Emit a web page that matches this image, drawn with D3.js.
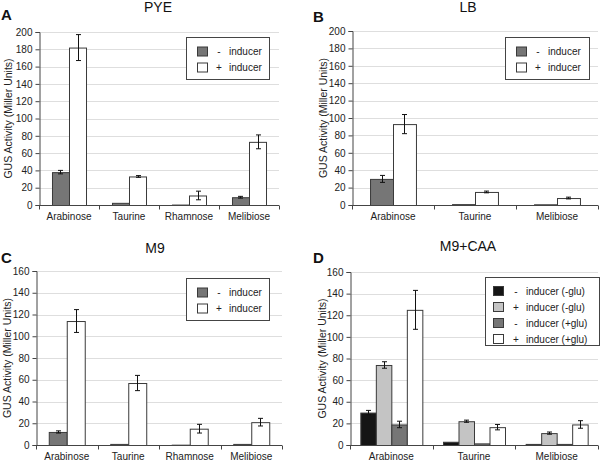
<!DOCTYPE html>
<html><head><meta charset="utf-8">
<script src="https://cdn.jsdelivr.net/npm/d3@7"></script>
<style>body{margin:0;background:#fff}svg{display:block;font-family:"Liberation Sans",Arial,sans-serif}</style>
</head><body>
<svg id="c" width="600" height="460"></svg>
<script>
// ---- Data ----
const catsA = ["Arabinose","Taurine","Rhamnose","Melibiose"];
const pyeMinus = [38, 2.5, 0.5, 9];
const pyeMinusErr = [2, 0.5, 0.2, 1];
const pyePlus = [182, 33, 11, 73];
const pyePlusErr = [15, 1, 5, 8];

const catsB = ["Arabinose","Taurine","Melibiose"];
const lbMinus = [30, 1, 0.8];
const lbMinusErr = [4, 0.2, 0.2];
const lbPlus = [93, 15, 8];
const lbPlusErr = [11, 1, 1];

const catsC = ["Arabinose","Taurine","Rhamnose","Melibiose"];
const m9Minus = [12, 1, 0.3, 1];
const m9MinusErr = [1, 0.3, 0.1, 0.3];
const m9Plus = [114, 57, 15, 21];
const m9PlusErr = [10.5, 7, 4, 3.5];

const catsD = ["Arabinose","Taurine","Melibiose"];
const caaMinusNoGlu = [30, 3, 1];
const caaMinusNoGluErr = [2, 0.3, 0.2];
const caaPlusNoGlu = [74, 22, 11];
const caaPlusNoGluErr = [3, 1, 1];
const caaMinusGlu = [19, 1.5, 1];
const caaMinusGluErr = [3, 0.3, 0.2];
const caaPlusGlu = [125, 16.5, 19];
const caaPlusGluErr = [18, 2.5, 3.5];

const ticksAB = [0,20,40,60,80,100,120,140,160,180,200];
const ticksCD = [0,20,40,60,80,100,120,140,160];

const legend2 = [["-","inducer"],["+","inducer"]];
const legend4 = [["-","inducer (-glu)"],["+","inducer (-glu)"],["-","inducer (+glu)"],["+","inducer (+glu)"]];
const col2 = ["#767676","#ffffff"];
const col4 = ["#151515","#c4c4c4","#767676","#ffffff"];

const svg = d3.select("#c");

function panel(o){
  const g = svg.append("g");
  const x = d3.scaleBand().domain(o.cats).range([o.x0,o.x1]).paddingInner(o.pad).paddingOuter(o.pad/2);
  const y = d3.scaleLinear().domain([0,o.ymax]).range([o.y0,o.y1]);
  const keys = o.series.map((s,i)=>i);
  const xs = d3.scaleBand().domain(keys).range([0,x.bandwidth()]);
  // grid
  g.append("g").selectAll("line").data(o.ticks.slice(1)).join("line")
    .attr("x1",o.x0).attr("x2",o.x1).attr("y1",d=>Math.round(y(d))+0.5).attr("y2",d=>Math.round(y(d))+0.5)
    .attr("stroke","#dedede").attr("stroke-width",1);
  // y axis
  const ya = g.append("g").attr("transform",`translate(${o.x0+0.5},0)`)
    .call(d3.axisLeft(y).tickValues(o.ticks).tickSize(4).tickPadding(3));
  ya.select(".domain").attr("stroke","#444");
  ya.selectAll(".tick line").attr("stroke","#444");
  ya.selectAll("text").attr("font-size","10px").attr("fill","#222").attr("font-family","Liberation Sans, Arial, sans-serif");
  // bars
  o.series.forEach((s,si)=>{
    g.append("g").selectAll("rect").data(s.v).join("rect")
      .attr("x",(d,i)=>x(o.cats[i])+xs(si)+0.5)
      .attr("width",xs.bandwidth())
      .attr("y",d=>y(d)+0.5)
      .attr("height",d=>Math.max(0,y(0)-y(d)))
      .attr("fill",o.colors[si]).attr("stroke","#3a3a3a").attr("stroke-width",1);
    const eg = g.append("g").attr("stroke","#111").attr("stroke-width",1);
    s.v.forEach((d,i)=>{
      const e = s.e[i]; if(e<0.6) return;
      const cx = Math.round(x(o.cats[i])+xs(si)+xs.bandwidth()/2)+0.5;
      eg.append("line").attr("x1",cx).attr("x2",cx).attr("y1",y(d+e)).attr("y2",y(d-e));
      eg.append("line").attr("x1",cx-2.5).attr("x2",cx+2.5).attr("y1",y(d+e)).attr("y2",y(d+e));
      eg.append("line").attr("x1",cx-2.5).attr("x2",cx+2.5).attr("y1",y(d-e)).attr("y2",y(d-e));
    });
  });
  // x axis
  const xa = g.append("g").attr("transform",`translate(0,${o.y0+0.5})`);
  xa.append("line").attr("x1",o.x0).attr("x2",o.x1).attr("stroke","#444");
  const step = x.step();
  xa.selectAll(".tk").data(d3.range(o.cats.length+1)).join("line")
    .attr("x1",i=>Math.round(o.x0+i*step)+0.5).attr("x2",i=>Math.round(o.x0+i*step)+0.5)
    .attr("y1",0).attr("y2",4).attr("stroke","#444");
  xa.selectAll("text").data(o.cats).join("text")
    .attr("x",d=>x(d)+x.bandwidth()/2).attr("y",14)
    .attr("text-anchor","middle").attr("font-size","10px").attr("fill","#222").text(d=>d);
  // y label
  g.append("text").attr("transform",`translate(${o.ylx},${(o.y0+o.y1)/2}) rotate(-90)`)
    .attr("text-anchor","middle").attr("dy","0.35em").attr("font-size","10.5px").attr("fill","#222")
    .text("GUS Activity (Miller Units)");
  // title & letter
  g.append("text").attr("x",o.tx).attr("y",o.ty).attr("text-anchor","middle").attr("font-size","14px").attr("fill","#111").text(o.title);
  g.append("text").attr("x",o.lx).attr("y",o.ly).attr("font-size","15px").attr("font-weight","bold").attr("fill","#111").text(o.letter);
  // legend
  const L = o.leg;
  g.append("rect").attr("x",L.x+0.5).attr("y",L.y+0.5).attr("width",L.w).attr("height",L.h)
    .attr("fill","#fff").attr("stroke","#444");
  o.legItems.forEach((it,i)=>{
    const cy = L.y + L.r0 + i*L.dy;
    g.append("rect").attr("x",L.x+L.sx+0.5).attr("y",cy-4.5).attr("width",10).attr("height",9)
      .attr("fill",o.colors[i]).attr("stroke","#3a3a3a");
    g.append("text").attr("x",L.x+L.sgx).attr("y",cy).attr("dy","0.35em").attr("text-anchor","middle")
      .attr("font-size","10px").attr("fill","#222").text(it[0]);
    g.append("text").attr("x",L.x+L.tx).attr("y",cy).attr("dy","0.35em")
      .attr("font-size","10px").attr("fill","#222").text(it[1]);
  });
}

panel({cats:catsA, series:[{v:pyeMinus,e:pyeMinusErr},{v:pyePlus,e:pyePlusErr}], colors:col2,
  x0:39,x1:279,y0:205,y1:32,ymax:200,ticks:ticksAB,pad:0.433,ylx:8,
  title:"PYE",tx:158,ty:12,letter:"A",lx:1,ly:20,
  leg:{x:186,y:37,w:83,h:42,sx:11,r0:14.5,dy:16,sgx:33,tx:43}, legItems:legend2});

panel({cats:catsB, series:[{v:lbMinus,e:lbMinusErr},{v:lbPlus,e:lbPlusErr}], colors:col2,
  x0:352,x1:598,y0:205,y1:31,ymax:200,ticks:ticksAB,pad:0.44,ylx:323,
  title:"LB",tx:468,ty:12,letter:"B",lx:313,ly:22,
  leg:{x:505,y:37,w:84,h:42,sx:11,r0:14.5,dy:16,sgx:33,tx:43}, legItems:legend2});

panel({cats:catsC, series:[{v:m9Minus,e:m9MinusErr},{v:m9Plus,e:m9PlusErr}], colors:col2,
  x0:36,x1:282,y0:445,y1:271,ymax:160,ticks:ticksCD,pad:0.415,ylx:7,
  title:"M9",tx:155,ty:253,letter:"C",lx:1,ly:263,
  leg:{x:186,y:278,w:83,h:42,sx:11,r0:14.5,dy:16,sgx:33,tx:43}, legItems:legend2});

panel({cats:catsD, series:[{v:caaMinusNoGlu,e:caaMinusNoGluErr},{v:caaPlusNoGlu,e:caaPlusNoGluErr},{v:caaMinusGlu,e:caaMinusGluErr},{v:caaPlusGlu,e:caaPlusGluErr}], colors:col4,
  x0:350,x1:598,y0:445,y1:272,ymax:160,ticks:ticksCD,pad:0.25,ylx:322,
  title:"M9+CAA",tx:468,ty:251,letter:"D",lx:313,ly:263,
  leg:{x:485,y:277,w:114,h:68,sx:8,r0:14,dy:16,sgx:31,tx:41}, legItems:legend4});
</script>
</body></html>
